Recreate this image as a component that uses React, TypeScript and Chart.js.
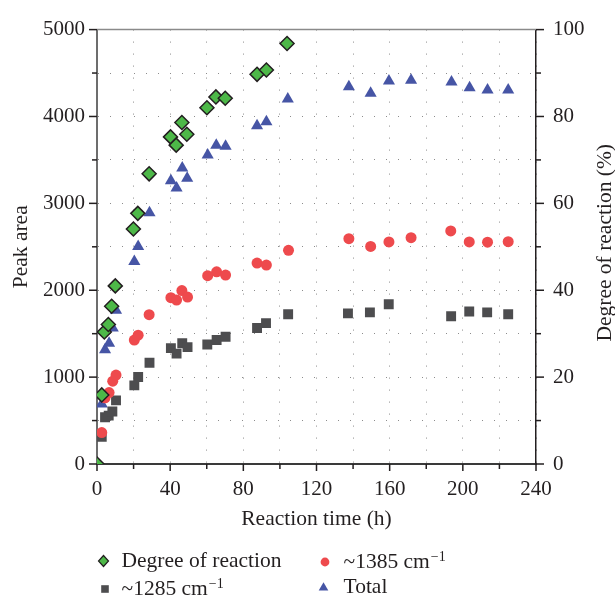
import React, { useEffect, useRef } from 'react';
import { Chart, registerables } from 'chart.js';

Chart.register(...registerables);

const FONT = "'Liberation Serif', 'Times New Roman', serif";
const TEXT = '#231F20';

// ---- data (reaction time in h) ----
const degreeHours = [0, 2.6, 4.0, 6.2, 8.0, 10.0, 19.9, 22.3, 28.5, 40.2, 43.3, 46.4, 49.1, 60.1, 65.0, 70.1, 87.5, 92.6, 103.9];
const degreeValues = [0, 15.9, 30.4, 32.1, 36.3, 41.0, 54.1, 57.7, 66.8, 75.3, 73.4, 78.6, 75.9, 82.0, 84.5, 84.2, 89.7, 90.7, 96.8];

const band1385Hours = [2.6, 4.4, 6.6, 8.6, 10.4, 20.4, 22.5, 28.5, 40.4, 43.5, 46.4, 49.5, 60.5, 65.4, 70.3, 87.5, 92.6, 104.7, 137.7, 149.6, 159.6, 171.7, 193.4, 203.5, 213.5, 224.8];
const band1385Values = [362, 762, 822, 953, 1024, 1427, 1483, 1719, 1914, 1887, 1996, 1921, 2167, 2212, 2175, 2313, 2290, 2459, 2593, 2504, 2556, 2605, 2683, 2556, 2553, 2559];

const band1285Hours = [2.6, 4.4, 6.4, 8.4, 10.4, 20.4, 22.5, 28.7, 40.4, 43.5, 46.6, 49.5, 60.3, 65.4, 70.3, 87.5, 92.4, 104.5, 137.2, 149.2, 159.5, 193.6, 203.5, 213.3, 224.8];
const band1285Values = [314, 538, 557, 605, 732, 905, 1001, 1166, 1334, 1271, 1390, 1345, 1376, 1427, 1465, 1566, 1622, 1723, 1734, 1745, 1839, 1700, 1756, 1745, 1723];

const totalHours = [2.6, 4.4, 6.6, 8.6, 10.4, 20.4, 22.5, 28.7, 40.4, 43.5, 46.6, 49.3, 60.5, 65.2, 70.3, 87.5, 92.6, 104.3, 137.7, 149.6, 159.6, 171.7, 193.8, 203.7, 213.5, 224.8];
const totalValues = [692, 1315, 1390, 1566, 1771, 2332, 2503, 2892, 3259, 3176, 3408, 3288, 3557, 3669, 3658, 3893, 3938, 4200, 4342, 4268, 4409, 4417, 4398, 4331, 4305, 4305];

// ---- tick labels ----
const xLabelTicks = [0, 40, 80, 120, 160, 200, 240];
const peakLabelTicks = [0, 1000, 2000, 3000, 4000, 5000];
const degreeLabelTicks = [0, 20, 40, 60, 80, 100];

const seriesNames = ['Degree of reaction', '~1385 cm', '~1285 cm', 'Total'];
const colors = { degree: '#4DB848', c1385: '#EE4A4D', c1285: '#4D4D4F', total: '#4655A5' };

const pts = (xs: number[], ys: number[]) => xs.map((x, i) => ({ x, y: ys[i] }));

function line(ctx: CanvasRenderingContext2D, x1: number, y1: number, x2: number, y2: number) {
  ctx.beginPath();
  ctx.moveTo(x1, y1);
  ctx.lineTo(x2, y2);
  ctx.stroke();
}

function marker(ctx: CanvasRenderingContext2D, kind: string, x: number, y: number) {
  ctx.save();
  ctx.beginPath();
  if (kind === 'diamond') {
    ctx.moveTo(x, y - 5.5);
    ctx.lineTo(x + 5, y);
    ctx.lineTo(x, y + 5.5);
    ctx.lineTo(x - 5, y);
    ctx.closePath();
    ctx.fillStyle = colors.degree;
    ctx.fill();
    ctx.lineWidth = 1.2;
    ctx.strokeStyle = TEXT;
    ctx.stroke();
  } else if (kind === 'circle') {
    ctx.arc(x, y, 4.4, 0, Math.PI * 2);
    ctx.fillStyle = colors.c1385;
    ctx.fill();
  } else if (kind === 'square') {
    ctx.rect(x - 3.8, y - 3.8, 7.6, 7.6);
    ctx.fillStyle = colors.c1285;
    ctx.fill();
  } else {
    ctx.moveTo(x, y - 4.8);
    ctx.lineTo(x + 4.8, y + 3.4);
    ctx.lineTo(x - 4.8, y + 3.4);
    ctx.closePath();
    ctx.fillStyle = colors.total;
    ctx.fill();
  }
  ctx.restore();
}

const overlay = {
  id: 'overlay',
  afterDraw(chart: any) {
    const { ctx, chartArea } = chart;
    const { left, right, top, bottom } = chartArea;
    const sx = chart.scales.x;
    const sy = chart.scales.y;
    const sy1 = chart.scales.y1;
    ctx.save();
    // top frame line
    ctx.strokeStyle = '#8a8a8a';
    ctx.lineWidth = 1.5;
    line(ctx, left, top, right, top);
    // tick marks
    ctx.strokeStyle = TEXT;
    ctx.lineWidth = 1.5;
    sy.ticks.forEach((t: any) => {
      const p = sy.getPixelForValue(t.value);
      const len = peakLabelTicks.includes(t.value) ? 8 : 5;
      line(ctx, left - len, p, left, p);
    });
    sy1.ticks.forEach((t: any) => {
      const p = sy1.getPixelForValue(t.value);
      const len = degreeLabelTicks.includes(t.value) ? 8 : 5;
      line(ctx, right, p, right + len, p);
    });
    sx.ticks.forEach((t: any) => {
      const p = sx.getPixelForValue(t.value);
      const len = xLabelTicks.includes(t.value) ? 7 : 5;
      line(ctx, p, bottom, p, bottom + len);
    });
    // right axis title (reads bottom-to-top)
    ctx.fillStyle = TEXT;
    ctx.font = `21.5px ${FONT}`;
    ctx.save();
    ctx.translate(605, (top + bottom) / 2 - 4);
    ctx.rotate(-Math.PI / 2);
    ctx.textAlign = 'center';
    ctx.textBaseline = 'middle';
    ctx.fillText('Degree of reaction (%)', 0, 0);
    ctx.restore();

    // legend
    const items = [
      { kind: 'diamond', name: seriesNames[0], mx: 103.5, tx: 121.5, y: 561, sup: false },
      { kind: 'circle', name: seriesNames[1], mx: 325, tx: 343.5, y: 562, sup: true },
      { kind: 'square', name: seriesNames[2], mx: 105, tx: 121.5, y: 589, sup: true },
      { kind: 'triangle', name: seriesNames[3], mx: 323.5, tx: 343.5, y: 587, sup: false },
    ];
    items.forEach((it) => {
      marker(ctx, it.kind, it.mx, it.y);
      ctx.fillStyle = TEXT;
      ctx.font = `21.5px ${FONT}`;
      ctx.textAlign = 'left';
      ctx.textBaseline = 'middle';
      ctx.fillText(it.name, it.tx, it.y);
      if (it.sup) {
        const w = ctx.measureText(it.name).width;
        ctx.font = `14px ${FONT}`;
        ctx.textBaseline = 'alphabetic';
        ctx.fillText('\u22121', it.tx + w + 1, it.y - 1);
      }
    });
    ctx.restore();
  },
};

export default function App() {
  const ref = useRef<HTMLCanvasElement | null>(null);

  useEffect(() => {
    document.body.style.margin = '0';
    const canvas = ref.current;
    if (!canvas) return;
    const tickFont = { family: FONT, size: 21 };
    const titleFont = { family: FONT, size: 21.5 };
    const gridOpts = { color: '#8c8c8c', lineWidth: 1, drawTicks: false };
    const chart = new Chart(canvas, {
      type: 'scatter',
      data: {
        datasets: [
          {
            label: seriesNames[0],
            yAxisID: 'y1',
            data: pts(degreeHours, degreeValues),
            pointStyle: 'rectRot',
            pointRadius: 7,
            pointBackgroundColor: colors.degree,
            backgroundColor: colors.degree,
            pointBorderColor: TEXT,
            borderColor: TEXT,
            pointBorderWidth: 1.5,
            clip: 0,
            order: 0,
          } as any,
          {
            label: seriesNames[1],
            yAxisID: 'y',
            data: pts(band1385Hours, band1385Values),
            pointStyle: 'circle',
            pointRadius: 5.5,
            pointBackgroundColor: colors.c1385,
            backgroundColor: colors.c1385,
            pointBorderWidth: 0,
            order: 1,
          },
          {
            label: seriesNames[2],
            yAxisID: 'y',
            data: pts(band1285Hours, band1285Values),
            pointStyle: 'rect',
            pointRadius: 7,
            pointBackgroundColor: colors.c1285,
            backgroundColor: colors.c1285,
            pointBorderWidth: 0,
            order: 2,
          },
          {
            label: seriesNames[3],
            yAxisID: 'y',
            data: pts(totalHours, totalValues),
            pointStyle: 'triangle',
            pointRadius: 7,
            pointBackgroundColor: colors.total,
            backgroundColor: colors.total,
            pointBorderWidth: 0,
            order: 3,
          },
        ],
      },
      options: {
        animation: false,
        responsive: false,
        events: [],
        layout: { padding: { top: 18, left: 0, right: 0, bottom: 67 } },
        plugins: { legend: { display: false }, tooltip: { enabled: false } },
        scales: {
          x: {
            type: 'linear',
            position: 'bottom',
            min: 0,
            max: 240,
            ticks: {
              stepSize: 20,
              autoSkip: false,
              maxRotation: 0,
              padding: 13,
              color: TEXT,
              font: tickFont,
              callback: (v: any) => (xLabelTicks.includes(v) ? String(v) : ''),
            },
            grid: gridOpts,
            border: { color: '#3a3a3a', width: 2, dash: [1, 11] },
            title: { display: true, text: 'Reaction time (h)', color: TEXT, font: titleFont, padding: { top: 0, bottom: 0 } },
            afterFit: (s: any) => { s.height = 68; },
          },
          y: {
            type: 'linear',
            position: 'left',
            min: 0,
            max: 5000,
            ticks: {
              stepSize: 500,
              autoSkip: false,
              padding: 12,
              color: TEXT,
              font: tickFont,
              callback: (v: any) => (peakLabelTicks.includes(v) ? String(v) : ''),
            },
            grid: gridOpts,
            border: { color: '#6d6d6d', width: 2, dash: [1, 11] },
            title: { display: true, text: 'Peak area', color: TEXT, font: titleFont, padding: { top: 8, bottom: 0 } },
            afterFit: (s: any) => { s.width = 97; },
          },
          y1: {
            type: 'linear',
            position: 'right',
            min: 0,
            max: 100,
            ticks: {
              stepSize: 10,
              autoSkip: false,
              padding: 17,
              color: TEXT,
              font: tickFont,
              callback: (v: any) => (degreeLabelTicks.includes(v) ? String(v) : ''),
            },
            grid: { display: false, drawTicks: false },
            border: { color: TEXT, width: 1.5 },
            afterFit: (s: any) => { s.width = 79; },
          },
        },
      } as any,
      plugins: [overlay],
    });
    return () => chart.destroy();
  }, []);

  return <canvas ref={ref} width={615} height={599} style={{ display: 'block' }} />;
}
